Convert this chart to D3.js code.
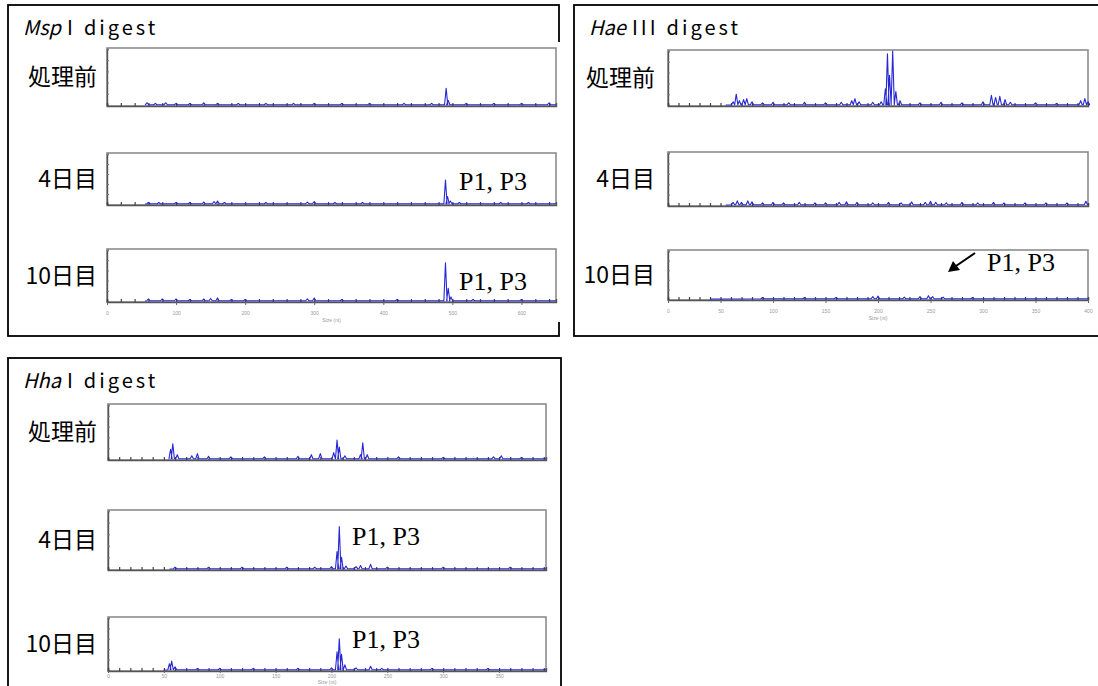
<!DOCTYPE html>
<html>
<head>
<meta charset="utf-8">
<script src="https://cdn.jsdelivr.net/npm/d3@7"></script>
<style>
  body { margin: 0; background: #fff; }
  svg { display: block; }
  .stage { font-family: "Noto Sans CJK JP"; font-size: 23px; fill: #000; }
  .title { font-family: "Noto Sans CJK JP"; font-size: 20px; letter-spacing: 3px; fill: #000; }
  .note { font-family: "Liberation Serif"; font-size: 26px; fill: #000; }
  .xlab { font-family: "Liberation Sans"; font-size: 5px; fill: #999; }
</style>
</head>
<body>
<div id="viz-wrapper"></div>
<script>
  // height and width of the svg
  var width = 1098,
      height = 686;

  // stage names (rows of each panel)
  var stages = ["処理前", "4日目", "10日目"];

  // tick labels of the size axis for each digest
  var mspTicks = [0, 100, 200, 300, 400, 500, 600];
  var haeTicks = [0, 50, 100, 150, 200, 250, 300, 350, 400];
  var hhaTicks = [0, 50, 100, 150, 200, 250, 300, 350];

  // where each trace starts (size, nt)
  var mspStart = [55, 55, 55];
  var haeStart = [55, 55, 40];
  var hhaStart = [55, 55, 50];

  // peaks: [size (nt), height (% of frame)]
  var mspPre = [[58, 4], [70, 3], [85, 4], [100, 3], [120, 3], [140, 4], [160, 3], [190, 3], [230, 3],
                [270, 3], [300, 3], [340, 3], [380, 3], [430, 3], [470, 3], [491, 30], [494, 8],
                [520, 3], [560, 3], [600, 3], [640, 4]];
  var msp4 = [[60, 3], [75, 3], [100, 3], [120, 3], [140, 4], [155, 5], [160, 6], [170, 3], [230, 3],
              [290, 4], [300, 5], [330, 3], [370, 3], [490, 48], [493, 15], [497, 6], [510, 3],
              [570, 3], [610, 3]];
  var msp10 = [[60, 4], [80, 4], [100, 4], [120, 3], [140, 4], [150, 5], [160, 6], [180, 3], [200, 3],
               [290, 4], [300, 6], [340, 3], [420, 3], [490, 75], [494, 25], [498, 8], [530, 3],
               [600, 3]];

  var haePre = [[62, 6], [65, 20], [68, 8], [72, 10], [75, 12], [80, 6], [90, 4], [100, 5], [115, 4],
                [130, 5], [150, 4], [165, 5], [175, 8], [178, 12], [182, 6], [195, 5], [203, 6],
                [207, 30], [209, 95], [211, 55], [214, 100], [217, 25], [221, 8], [240, 4], [260, 5],
                [280, 4], [300, 6], [308, 18], [312, 14], [316, 16], [321, 10], [326, 5], [350, 4],
                [370, 3], [393, 8], [397, 12], [400, 6]];
  var hae4 = [[62, 5], [66, 8], [70, 5], [76, 8], [80, 6], [90, 4], [100, 5], [110, 4], [125, 5],
              [140, 4], [150, 4], [163, 5], [170, 6], [180, 5], [195, 4], [210, 5], [222, 4], [232, 6],
              [245, 5], [250, 7], [255, 5], [265, 4], [280, 5], [295, 4], [310, 5], [320, 4], [340, 4],
              [360, 4], [380, 4], [398, 7]];
  var hae10 = [[90, 3], [130, 3], [160, 3], [195, 5], [200, 6], [225, 4], [240, 5], [248, 7], [252, 5],
               [262, 4], [290, 3]];

  var hhaPre = [[56, 18], [58, 28], [62, 8], [75, 6], [80, 10], [90, 5], [110, 4], [140, 4], [170, 5],
                [182, 8], [190, 10], [202, 12], [205, 35], [207, 22], [212, 6], [226, 8], [228, 30],
                [232, 8], [260, 4], [300, 3], [345, 4], [352, 6], [370, 3]];
  var hha4 = [[60, 3], [90, 3], [120, 3], [160, 3], [185, 3], [200, 4], [205, 30], [207, 73], [209, 20],
              [213, 5], [222, 4], [226, 6], [235, 8], [250, 3], [300, 3], [360, 3]];
  var hha10 = [[55, 12], [57, 17], [60, 6], [80, 3], [100, 3], [130, 3], [170, 3], [200, 4], [205, 35],
               [207, 60], [209, 30], [212, 10], [222, 4], [235, 7], [245, 3], [290, 3], [340, 3]];

  // layout of the three digest panels
  var panels = [
    { italic: "Msp", rest: ["I", "digest"], box: [8, 5, 559, 336], img: [100, 42, 563, 322],
      titleY: 35, fx: [107, 556], rows: [[48, 106], [153, 205], [249, 302]],
      domain: [0, 650], ticks: mspTicks, minor: 20, labelRight: 97, tick: 3, pad: 6, sizeGap: 20,
      starts: mspStart, traces: [mspPre, msp4, msp10] },
    { italic: "Hae", rest: ["III", "digest"], box: [574, 5, 1110, 336], img: [660, 42, 1094, 322],
      titleY: 35, fx: [668, 1088], rows: [[50, 106], [152, 206], [250, 300]],
      domain: [0, 400], ticks: haeTicks, minor: 10, labelRight: 655, tick: 3, pad: 6, sizeGap: 20,
      starts: haeStart, traces: [haePre, hae4, hae10] },
    { italic: "Hha", rest: ["I", "digest"], box: [8, 358, 561, 700], img: [100, 396, 556, 690],
      titleY: 388, fx: [108, 546], rows: [[404, 460], [510, 570], [617, 671]],
      domain: [0, 392], ticks: hhaTicks, minor: 10, labelRight: 97, tick: 2, pad: 1, sizeGap: 13,
      starts: hhaStart, traces: [hhaPre, hha4, hha10] }
  ];

  // "P1, P3" notes: panel index, row index, left x, baseline y
  var notes = [[0, 1, 459, 190], [0, 2, 459, 290], [1, 2, 987, 271], [2, 1, 352, 545], [2, 2, 352, 648]];

  var viz = d3.select("#viz-wrapper")
    .append("svg")
    .attr("width", width)
    .attr("height", height);

  panels.forEach(function(p, pi) {
    var g = viz.append("g");

    // outer box, then the pasted image area on top of it
    g.append("rect")
      .attr("x", p.box[0]).attr("y", p.box[1])
      .attr("width", p.box[2] - p.box[0]).attr("height", p.box[3] - p.box[1])
      .attr("fill", "#fff").attr("stroke", "#000").attr("stroke-width", 1.8);
    g.append("rect")
      .attr("x", p.img[0]).attr("y", p.img[1])
      .attr("width", p.img[2] - p.img[0]).attr("height", p.img[3] - p.img[1])
      .attr("fill", "#fff");

    // title, e.g. "MspI digest"
    var t = g.append("text").attr("class", "title")
      .attr("x", p.box[0] + 15).attr("y", p.titleY);
    t.append("tspan").attr("font-style", "italic").attr("letter-spacing", 0).text(p.italic);
    t.append("tspan").attr("dx", 6).text(p.rest[0]);
    t.append("tspan").attr("dx", 8).text(p.rest[1]);

    var x = d3.scaleLinear().domain(p.domain).range(p.fx);
    var pxPerUnit = (p.fx[1] - p.fx[0]) / (p.domain[1] - p.domain[0]);

    p.rows.forEach(function(r, ri) {
      var y = d3.scaleLinear().domain([0, 100]).range([r[1] - 1, r[0] + 1]);

      // stage label
      g.append("text").attr("class", "stage")
        .attr("x", p.labelRight).attr("y", (r[0] + r[1]) / 2 + 8)
        .attr("text-anchor", "end")
        .text(stages[ri]);

      // plot frame
      g.append("rect")
        .attr("x", p.fx[0]).attr("y", r[0])
        .attr("width", p.fx[1] - p.fx[0]).attr("height", r[1] - r[0])
        .attr("fill", "#fff").attr("stroke", "#8c8c8c").attr("stroke-width", 1.6);

      // left axis: small inner ticks
      var ya = g.append("g")
        .attr("transform", "translate(" + p.fx[0] + ",0)")
        .call(d3.axisRight(y).ticks(6).tickSize(2).tickFormat(""));
      ya.select(".domain").attr("stroke", "#555").attr("stroke-width", 1.4);
      ya.selectAll(".tick line").attr("stroke", "#777");

      // bottom axis: minor ticks pointing up
      var minorVals = d3.range(p.domain[0], p.domain[1] + 1, p.minor);
      var xm = g.append("g")
        .attr("transform", "translate(0," + r[1] + ")")
        .call(d3.axisBottom(x).tickValues(minorVals).tickSize(-3).tickFormat(""));
      xm.select(".domain").attr("stroke", "#555").attr("stroke-width", 1.4);
      xm.selectAll(".tick line").attr("stroke", "#444").attr("stroke-width", 1.2);

      // peaks trace
      var pts = [[p.starts[ri], 0]];
      var hw = 1.6 / pxPerUnit;
      p.traces[ri].forEach(function(d) {
        pts.push([d[0] - hw, 0.5], [d[0], d[1]], [d[0] + hw, 0.5]);
      });
      pts.push([p.domain[1], 0.5]);
      var line = d3.line().x(function(d) { return x(d[0]); }).y(function(d) { return y(d[1]); });
      g.append("path")
        .datum(pts)
        .attr("d", line)
        .attr("fill", "none")
        .attr("stroke", "#2727d6")
        .attr("stroke-width", 1.1)
        .attr("stroke-linejoin", "round");

      // labelled size axis under the last row
      if (ri === p.rows.length - 1) {
        var xa = g.append("g")
          .attr("transform", "translate(0," + r[1] + ")")
          .call(d3.axisBottom(x).tickValues(p.ticks).tickSize(p.tick).tickPadding(p.pad));
        xa.select(".domain").remove();
        xa.selectAll(".tick line").attr("stroke", "#666");
        xa.selectAll(".tick text").attr("class", "xlab").attr("font-size", null).attr("font-family", null).attr("fill", null);
        g.append("text").attr("class", "xlab")
          .attr("x", (p.fx[0] + p.fx[1]) / 2).attr("y", r[1] + p.sizeGap)
          .attr("text-anchor", "middle")
          .text("Size (nt)");
      }
    });
  });

  // "P1, P3" notes
  viz.selectAll(".note")
    .data(notes)
    .enter()
    .append("text")
    .attr("class", "note")
    .attr("x", function(d) { return d[2]; })
    .attr("y", function(d) { return d[3]; })
    .text("P1, P3");

  // arrow in the HaeIII 10日目 row
  viz.append("line")
    .attr("x1", 975).attr("y1", 253).attr("x2", 956).attr("y2", 266)
    .attr("stroke", "#000").attr("stroke-width", 2);
  viz.append("path")
    .attr("d", "M948,272 L953,261 L960,270 Z")
    .attr("fill", "#000");
</script>
</body>
</html>
